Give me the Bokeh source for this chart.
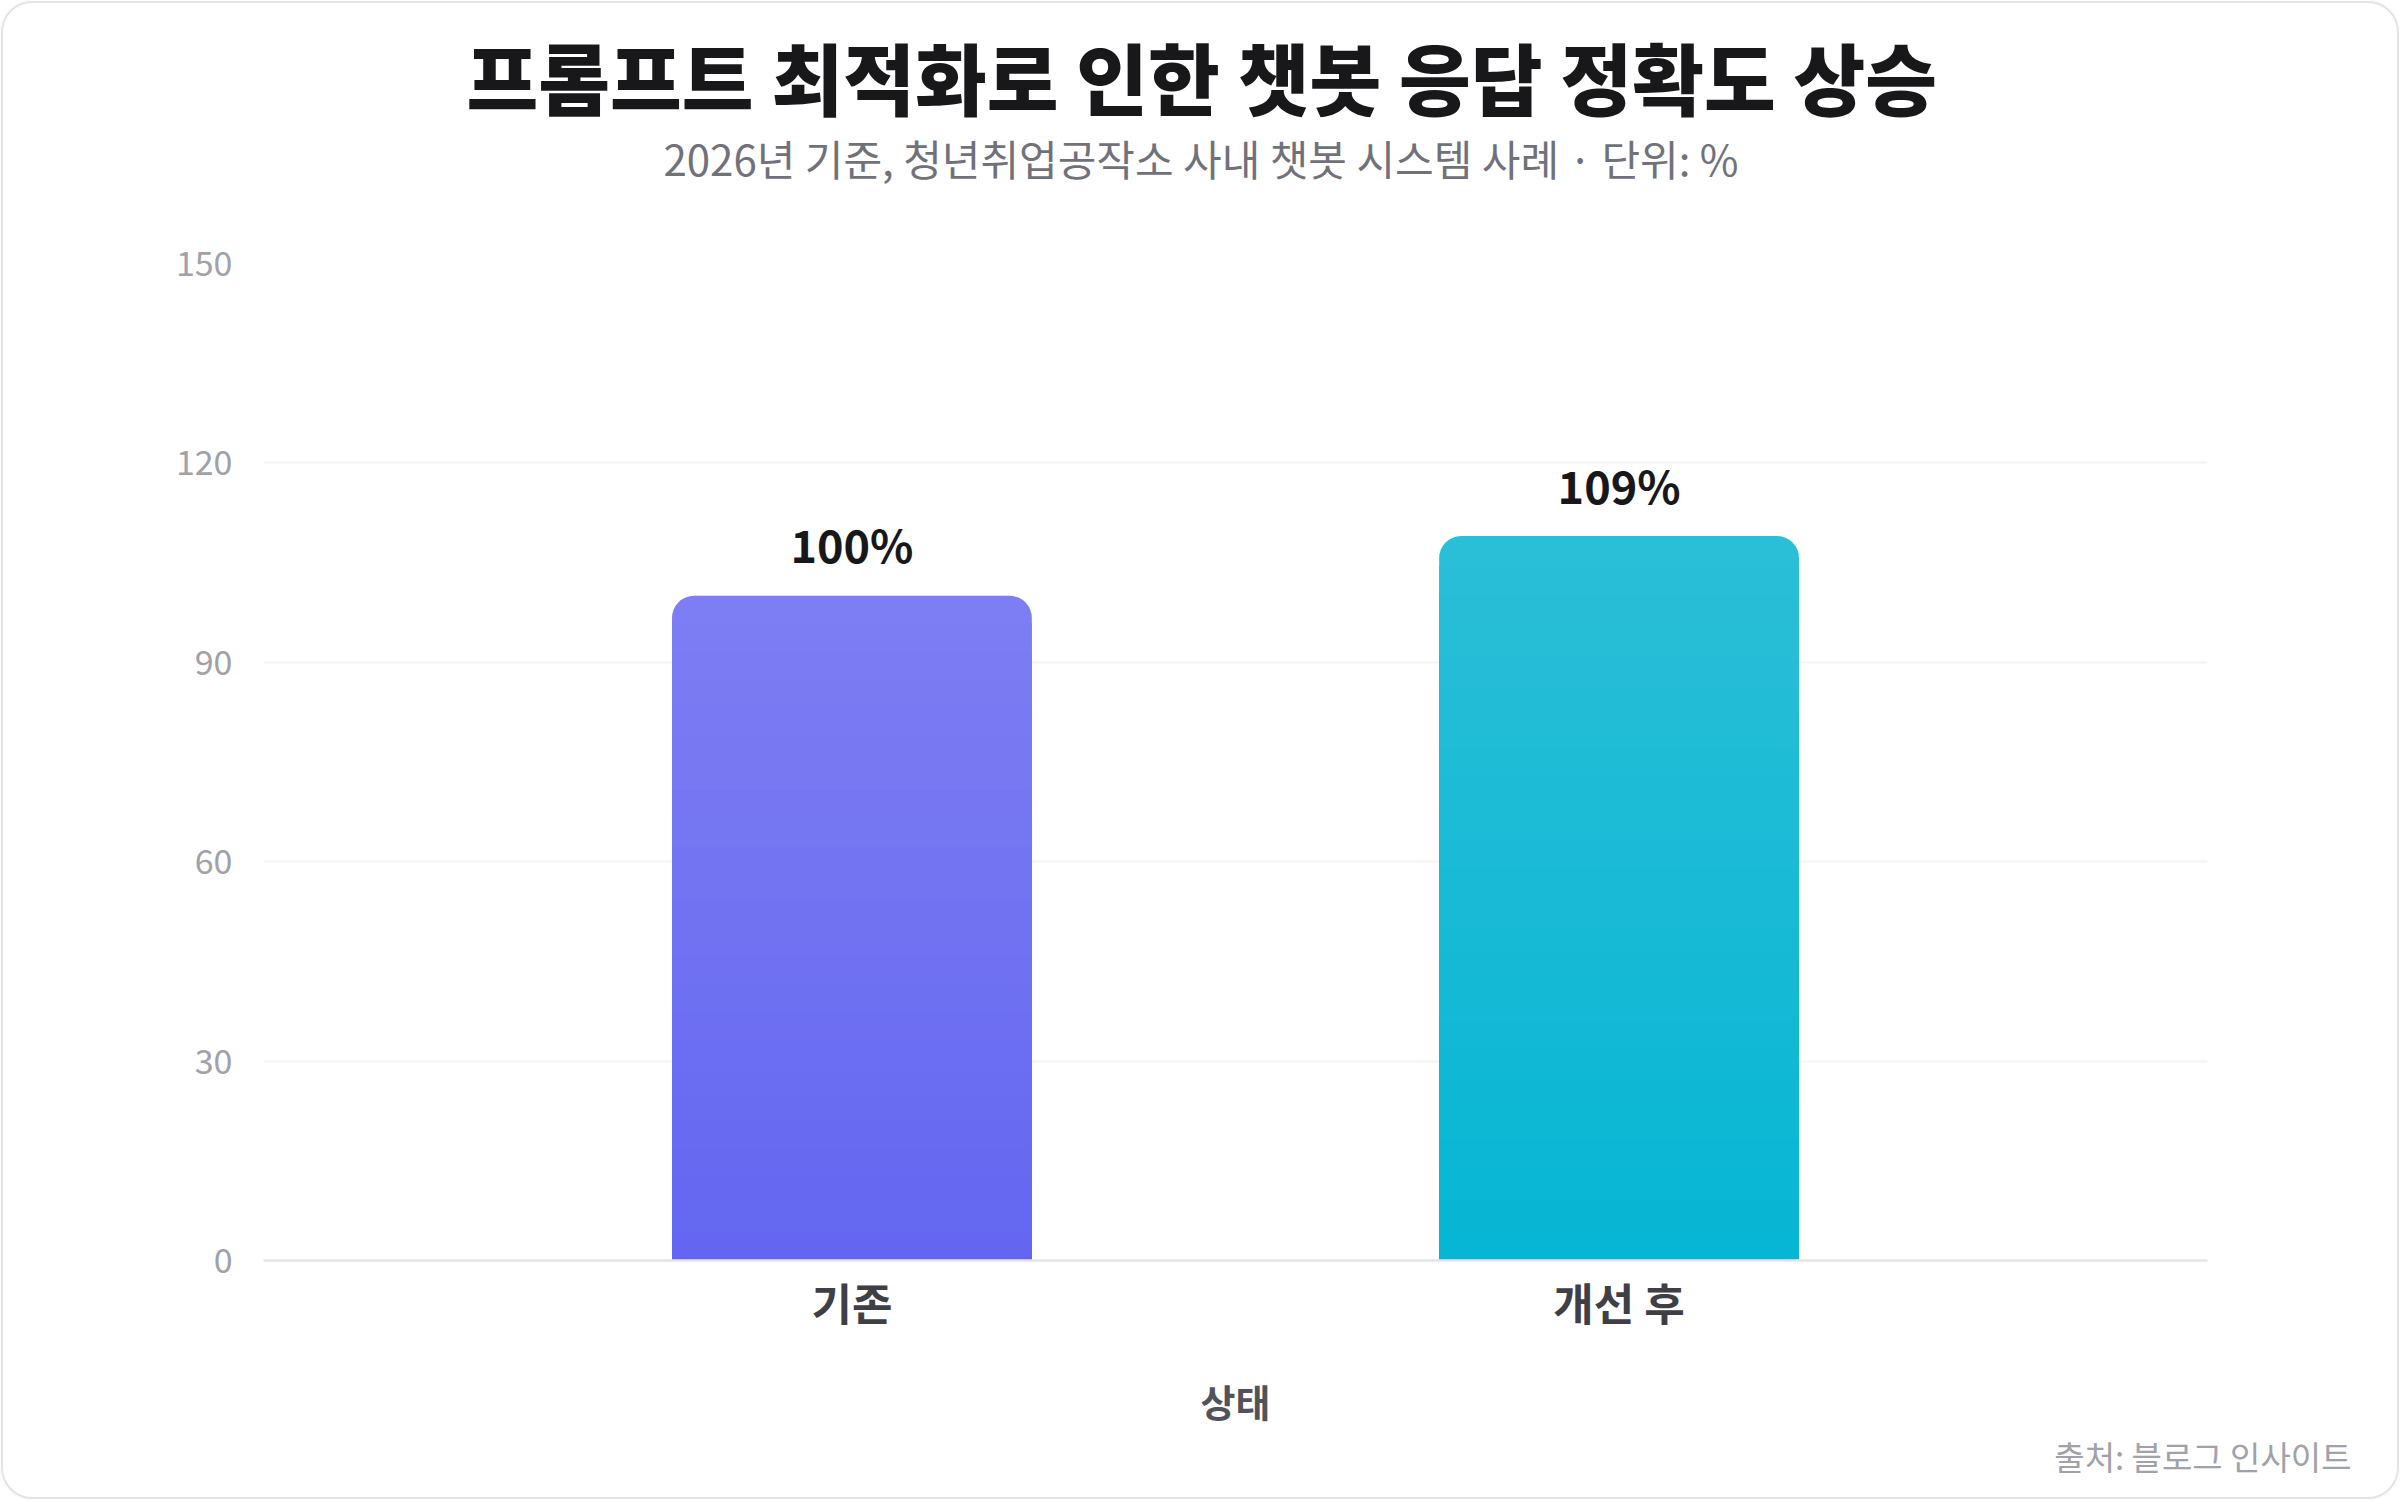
from bokeh.plotting import figure
from bokeh.models import FactorRange, Range1d, FixedTicker, Title, ColumnDataSource
from bokeh.core.properties import value
from bokeh.embed import file_html
from bokeh.resources import INLINE

# ---- data ----
title_text = "프롬프트 최적화로 인한 챗봇 응답 정확도 상승"
subtitle_text = "2026년 기준, 청년취업공작소 사내 챗봇 시스템 사례 · 단위: %"
source_text = "출처: 블로그 인사이트"
x_title = "상태"
categories = ["기존", "개선 후"]
accuracy = [100, 109]
value_labels = ["100%", "109%"]
y_ticks = [0, 30, 60, 90, 120, 150]
bar_bottom_colors = ["#6366f1", "#06b6d4"]
bar_top_colors = ["#7e7ef3", "#2bbed7"]

FONT = "Noto Sans CJK KR"
TITLE_FONT = "'Noto Sans CJK KR Black', 'Noto Sans CJK KR'"
W, H = 2400, 1500
ML, MR, MT, MB = 263, 193, 263, 240


def mix(c1, c2, t):
    a = [int(c1[i:i + 2], 16) for i in (1, 3, 5)]
    b = [int(c2[i:i + 2], 16) for i in (1, 3, 5)]
    return "#%02x%02x%02x" % tuple(round(x + (y - x) * t) for x, y in zip(a, b))


p = figure(
    width=W, height=H,
    x_range=FactorRange(factors=categories, range_padding=0.267, range_padding_units="percent"),
    y_range=Range1d(0, 150),
    output_backend="svg", toolbar_location=None, tools="",
    min_border_left=ML, min_border_right=MR, min_border_top=MT, min_border_bottom=MB,
)
p.background_fill_color = "white"
p.border_fill_color = None
p.outline_line_color = None
p.styles = {
    "background": "white",
    "border-radius": "32px",
    "box-shadow": "inset 0 0 0 1px white, inset 0 0 0 3px #e4e4e7",
}

# ---- gradient bars (stacked slices, top slice rounded) ----
N = 24
top_x, top_t, top_c = [], [], []
sl_x, sl_t, sl_c = [], [], []
for cat, val, c_top, c_bot in zip(categories, accuracy, bar_top_colors, bar_bottom_colors):
    top_x.append(cat)
    top_t.append(val)
    top_c.append(mix(c_top, c_bot, 0.5 / N))
    for k in range(1, N):
        sl_x.append(cat)
        sl_t.append(val * (1 - k / N))
        sl_c.append(mix(c_top, c_bot, (k + 0.5) / N))

src_top = ColumnDataSource(dict(x=top_x, top=top_t, color=top_c))
src_sl = ColumnDataSource(dict(x=sl_x, top=sl_t, color=sl_c))
p.vbar(x="x", top="top", bottom=0, width=0.469, source=src_top,
       fill_color="color", line_color=None, border_radius=(22, 22, 0, 0))
p.vbar(x="x", top="top", bottom=0, width=0.469, source=src_sl,
       fill_color="color", line_color=None)

# ---- value labels ----
p.text(x=categories, y=accuracy, text=value_labels, text_align="center",
       text_baseline="alphabetic", y_offset=-52, text_font=value(FONT),
       text_font_style="bold", text_font_size="45px", text_color="#18181b")

# ---- axes ----
p.yaxis.ticker = FixedTicker(ticks=y_ticks)
p.yaxis.axis_line_color = None
p.yaxis.major_tick_line_color = None
p.yaxis.minor_tick_line_color = None
p.yaxis.major_tick_out = 0
p.yaxis.major_tick_in = 0
p.yaxis.major_label_standoff = 31
p.yaxis.major_label_text_font = FONT
p.yaxis.major_label_text_font_size = "34px"
p.yaxis.major_label_text_color = "#a1a1aa"

p.xaxis.axis_line_color = "#e4e4e7"
p.xaxis.axis_line_width = 2.5
p.xaxis.major_tick_line_color = None
p.xaxis.minor_tick_line_color = None
p.xaxis.major_tick_out = 0
p.xaxis.major_tick_in = 0
p.xaxis.major_label_standoff = 9
p.xaxis.major_label_text_font = FONT
p.xaxis.major_label_text_font_style = "bold"
p.xaxis.major_label_text_font_size = "44px"
p.xaxis.major_label_text_color = "#3f3f46"
p.xaxis.axis_label = x_title
p.xaxis.axis_label_standoff = 36
p.xaxis.axis_label_text_font = FONT
p.xaxis.axis_label_text_font_style = "bold"
p.xaxis.axis_label_text_font_size = "38px"
p.xaxis.axis_label_text_color = "#52525b"

p.xgrid.grid_line_color = None
p.ygrid.grid_line_color = "#f4f4f5"
p.ygrid.grid_line_width = 2

# ---- titles (stacked upward from the frame) & source ----
p.add_layout(Title(text=" ", text_font_size="10px", standoff=61.8), "above")
p.add_layout(Title(text=subtitle_text, align="left", offset=400, vertical_align="middle",
                   standoff=0, text_font=FONT, text_font_style="normal",
                   text_font_size="42px", text_color="#71717a"), "above")
p.add_layout(Title(text=title_text, align="left", offset=203, vertical_align="middle",
                   standoff=-14.9, text_font=TITLE_FONT, text_font_style="bold",
                   text_font_size="78px", text_color="#18181b"), "above")
p.add_layout(Title(text=source_text, align="right", offset=-144, vertical_align="top",
                   standoff=3, text_font=FONT, text_font_style="normal",
                   text_font_size="33px", text_color="#a1a1aa"), "below")

open("out.html", "w").write(file_html(p, INLINE))
